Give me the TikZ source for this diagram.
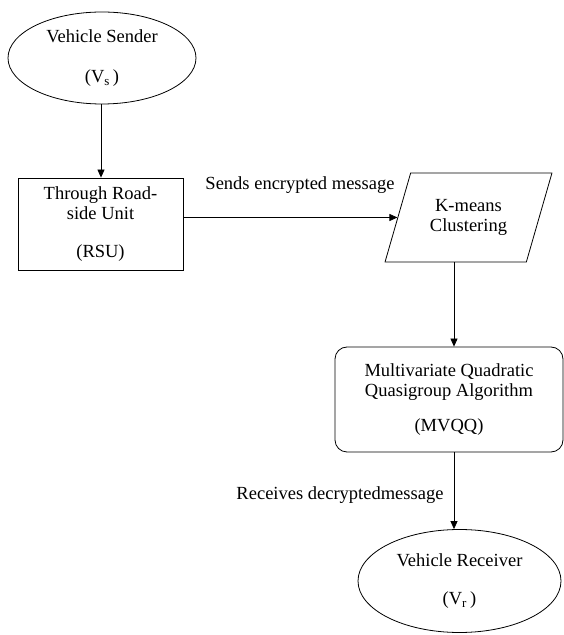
\documentclass[tikz,border=0pt]{standalone}
\usepackage{fontspec}
\setmainfont{Liberation Serif}
\usetikzlibrary{shapes.geometric,arrows.meta}
\begin{document}
\begin{tikzpicture}[x=1pt,y=1pt,
  every node/.style={font=\fontsize{18.5}{20}\selectfont, align=center, inner sep=0pt},
  shp/.style={draw, line width=0.8pt},
  conn/.style={line width=0.8pt, -{Triangle[length=8pt,width=7pt]}},
  plain/.style={line width=0.8pt}]
\useasboundingbox (0,0) rectangle (564,635);
\node[shp, ellipse, minimum width=188pt, minimum height=92pt] (vs) at (102,577)
  {Vehicle Sender\\[20pt](V\textsubscript{s}\,)};
\node[shp, rectangle, minimum width=165pt, minimum height=92pt] (rsu) at (100.5,411)
  {Through Road-\\side Unit\\[18pt](RSU)};
\node[shp, trapezium, trapezium left angle=64.7, trapezium right angle=115.3,
  trapezium stretches=true, minimum width=167pt, minimum height=89pt] (km) at (468.5,417.5)
  {K-means\\Clustering};
\node[shp, rectangle, rounded corners=12pt, minimum width=228pt, minimum height=105pt] (mv) at (449,235.5)
  {Multivariate Quadratic\\Quasigroup Algorithm\\[15pt](MVQQ)};
\node[shp, ellipse, minimum width=203pt, minimum height=103pt] (vr) at (459.5,54)
  {Vehicle Receiver\\[18pt](V\textsubscript{r}\,)};
\node (l1) at (300,450) {Sends encrypted message};
\node (l2) at (340,140) {Receives decryptedmessage};
\coordinate (ax) at (454,0);
\coordinate (bx) at (101,0);
\draw[conn] (vs.south -| bx) -- (rsu.north -| bx);
\draw[conn] (rsu.east |- km.west) -- (km.west);
\draw[conn] (km.south -| ax) -- (mv.north -| ax);
\draw[conn] (mv.south -| ax) -- (vr.north -| ax);
\end{tikzpicture}
\end{document}
